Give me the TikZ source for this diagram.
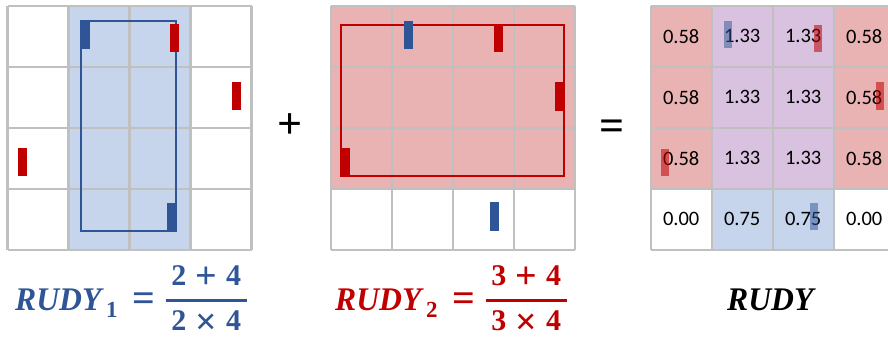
\documentclass[tikz,border=0pt]{standalone}
\usepackage{fontspec}
\setmainfont{Liberation Serif}
\newfontfamily\cellfont{Carlito}
\newfontfamily\rudyfont[FakeStretch=0.96]{Liberation Serif}
\definecolor{pinblue}{HTML}{2F5597}
\definecolor{pinred}{HTML}{C00000}
\definecolor{shblue}{HTML}{C6D4EC}
\definecolor{shred}{HTML}{EAB3B3}
\definecolor{shlav}{HTML}{D8C2E0}
\definecolor{gridgray}{HTML}{C0C0C0}
\newcommand{\fsz}[1]{\fontsize{#1}{#1}\selectfont}
\tikzset{
  gridline/.style={draw=gridgray, line width=2.2pt},
  bluepin/.style={fill=pinblue},
  redpin/.style={fill=pinred},
  ghostblue/.style={fill=pinblue, fill opacity=0.5},
  ghostred/.style={fill=pinred, fill opacity=0.55},
  cellnum/.style={font=\cellfont\fsz{20.5}, inner sep=0pt, text=black},
  rudytxt/.style={font=\rudyfont\bfseries\itshape\fsz{33}, inner sep=0pt, anchor=base west},
  subtxt/.style={font=\bfseries\fsz{23}, inner sep=0pt, anchor=base west},
  eqtxt/.style={font=\bfseries\fsz{40}, inner sep=0pt, anchor=base},
  fractxt/.style={font=\bfseries\fsz{30}, inner sep=0pt, anchor=base},
  fracbar/.style={line width=2.3pt},
  opsign/.style={font=\bfseries\fsz{44}, inner sep=0pt}
}
\newcommand{\numer}[2]{#1\hspace{9pt}\raisebox{-3.5pt}{\fsz{38}#2}\hspace{9pt}4}
\begin{document}
\begin{tikzpicture}[x=1pt,y=-1pt]
\useasboundingbox (0,0) rectangle (888,339);
% left grid (RUDY_1)
\fill[shblue] (68.5,5.7) rectangle (190.5,249.7);
\foreach \k in {0,...,4}{
  \draw[gridline] (7.5+61*\k,5.7) -- (7.5+61*\k,249.7);
  \draw[gridline] (7.5,5.7+61*\k) -- (251.5,5.7+61*\k);
}
\draw[pinblue, line width=2pt] (80.7,21) rectangle (175.5,230.5);
\fill[bluepin] (80.5,21) rectangle (89.5,49);
\fill[bluepin] (166.5,202.7) rectangle (175.5,230.7);
\fill[redpin] (170,24) rectangle (179,52);
\fill[redpin] (232,82.3) rectangle (241,110.5);
\fill[redpin] (17.5,148.3) rectangle (26.5,176.5);
% plus
\node[opsign] (opplus) at (290,126.3) {+};
% middle grid (RUDY_2)
\fill[shred] (330.7,5.7) rectangle (574.7,188.7);
\foreach \k in {0,...,4}{
  \draw[gridline] (330.7+61*\k,5.7) -- (330.7+61*\k,249.7);
  \draw[gridline] (330.7,5.7+61*\k) -- (574.7,5.7+61*\k);
}
\draw[pinred, line width=2pt] (341,24.7) rectangle (564.3,175.7);
\fill[bluepin] (403.5,20.7) rectangle (412.5,49);
\fill[redpin] (493.5,24.7) rectangle (502.5,52.3);
\fill[redpin] (555.3,82.3) rectangle (564.3,110.7);
\fill[redpin] (341,148) rectangle (350,176.5);
\fill[bluepin] (489.7,202.3) rectangle (498.7,230.7);
% equals
\node[opsign] (opeq) at (611.7,130.4) {=};
% right grid (RUDY)
\fill[shred] (650.7,5.7) rectangle (894.7,188.7);
\fill[shlav] (711.7,5.7) rectangle (833.7,188.7);
\fill[shblue] (711.7,188.7) rectangle (833.7,249.7);
\foreach \k in {0,...,4}{
  \draw[gridline] (650.7+61*\k,5.7) -- (650.7+61*\k,249.7);
  \draw[gridline] (650.7,5.7+61*\k) -- (894.7,5.7+61*\k);
}
\foreach \r/\vals in {0/{0.58,1.33,1.33,0.58},1/{0.58,1.33,1.33,0.58},2/{0.58,1.33,1.33,0.58},3/{0.00,0.75,0.75,0.00}}{
  \foreach \v [count=\c from 0] in \vals {
    \node[cellnum] (cell-\r-\c) at (681.2+61*\c,36.4+61*\r) {\v};
  }
}
\fill[ghostblue] (724,21) rectangle (732,47.7);
\fill[ghostred] (814,25) rectangle (822,51.7);
\fill[ghostred] (876,82.3) rectangle (884,109.7);
\fill[ghostred] (661,149) rectangle (669,175.7);
\fill[ghostblue] (810,203) rectangle (818,230);
% formula RUDY_1
\begin{scope}[pinblue, text=pinblue]
\node[rudytxt] (ra) at (15,310) {RUDY};
\node[subtxt] (ra-sub) at (106,317) {1};
\node[eqtxt] (ra-eq) at (144.2,311.5) {=};
\node[fractxt] (ra-num) at (206.2,285) {\numer{2}{+}};
\node[fractxt] (ra-den) at (206.2,330.5) {\numer{2}{×}};
\coordinate (ra-bl) at (165.7,300.5);
\coordinate (ra-br) at (246.7,300.5);
\draw[fracbar] (ra-bl) -- (ra-br);
\end{scope}
% formula RUDY_2
\begin{scope}[pinred, text=pinred]
\node[rudytxt] (rb) at (335,310) {RUDY};
\node[subtxt] (rb-sub) at (426,317) {2};
\node[eqtxt] (rb-eq) at (464.2,311.5) {=};
\node[fractxt] (rb-num) at (526.2,285) {\numer{3}{+}};
\node[fractxt] (rb-den) at (526.2,330.5) {\numer{3}{×}};
\coordinate (rb-bl) at (485.7,300.5);
\coordinate (rb-br) at (566.7,300.5);
\draw[fracbar] (rb-bl) -- (rb-br);
\end{scope}
% RUDY
\node[rudytxt, text=black] (rc) at (727,310) {RUDY};
\end{tikzpicture}
\end{document}
